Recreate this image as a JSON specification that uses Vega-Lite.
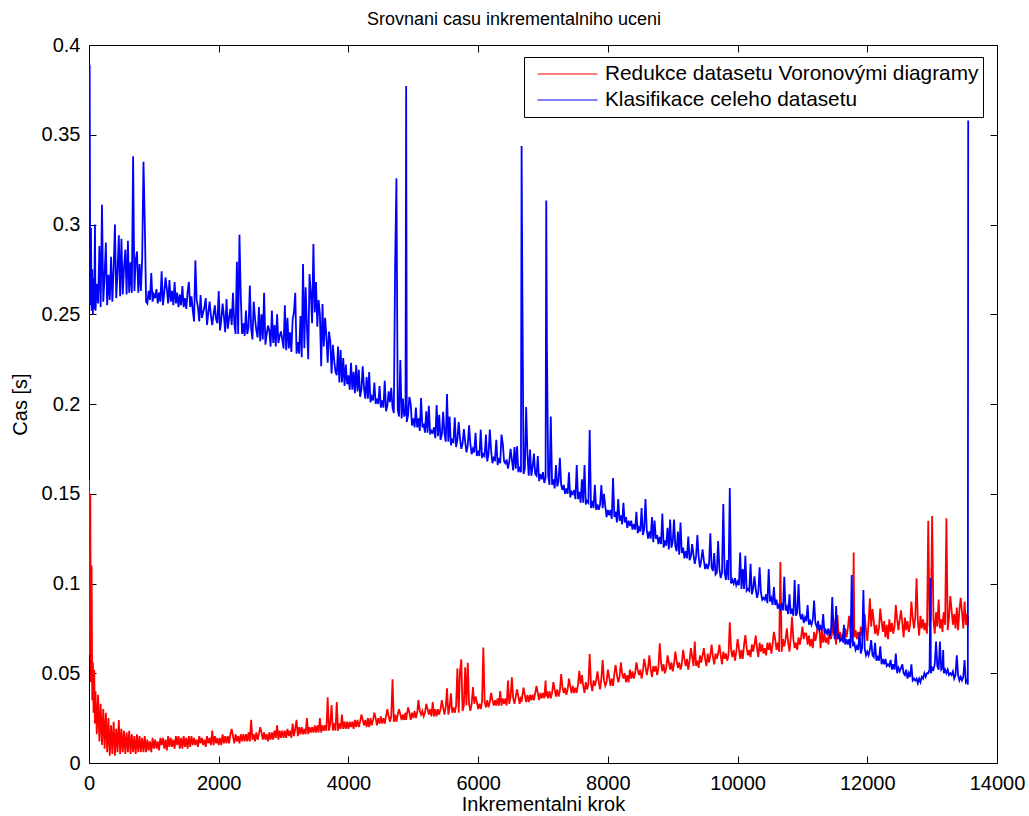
{
  "$schema": "https://vega.github.io/schema/vega-lite/v6.json",
  "width": 908,
  "height": 718,
  "autosize": "none",
  "padding": {"left": 89, "top": 45, "right": 32, "bottom": 53},
  "background": "white",
  "config": {
    "font": "Liberation Sans",
    "view": {"stroke": "black", "strokeWidth": 1},
    "axis": {
      "domain": false,
      "grid": false,
      "offset": -7,
      "tickColor": "#000000",
      "tickSize": 7,
      "tickWidth": 1,
      "labelFlush": false,
      "labelFont": "Liberation Sans",
      "labelFontSize": 20,
      "labelColor": "#000000",
      "titleFont": "Liberation Sans",
      "titleFontSize": 20,
      "titleFontWeight": "normal",
      "titleColor": "#000000"
    }
  },
  "title": {
    "text": "Srovnani casu inkrementalniho uceni",
    "fontSize": 18,
    "fontWeight": "normal",
    "font": "Liberation Sans",
    "color": "#000000",
    "offset": 6,
    "dx": -29
  },
  "layer": [
    {
      "data": {
        "values": [
          {"x":0,"r":0.158,"b":0.321},{"x":10,"r":0.060,"b":0.389},{"x":20,"r":0.150,"b":0.255},{"x":30,"r":0.045,"b":0.298},
          {"x":40,"r":0.110,"b":0.252},{"x":50,"r":0.035,"b":0.275},{"x":60,"r":0.056,"b":0.250},{"x":70,"r":0.028,"b":0.270},
          {"x":80,"r":0.052,"b":0.253},{"x":92,"r":0.022,"b":0.300},{"x":100,"r":0.040,"b":0.252},{"x":120,"r":0.016,"b":0.267},
          {"x":140,"r":0.038,"b":0.256},{"x":160,"r":0.012,"b":0.288},{"x":180,"r":0.033,"b":0.254},{"x":200,"r":0.010,"b":0.311},
          {"x":220,"r":0.030,"b":0.257},{"x":240,"r":0.008,"b":0.271},{"x":260,"r":0.028,"b":0.290},{"x":280,"r":0.006,"b":0.255},
          {"x":300,"r":0.025,"b":0.272},{"x":320,"r":0.004,"b":0.258},{"x":340,"r":0.021,"b":0.282},{"x":360,"r":0.005,"b":0.257},
          {"x":380,"r":0.023,"b":0.276},{"x":400,"r":0.004,"b":0.300},{"x":420,"r":0.019,"b":0.259},{"x":440,"r":0.006,"b":0.274},
          {"x":460,"r":0.024,"b":0.294},{"x":480,"r":0.005,"b":0.260},{"x":500,"r":0.019,"b":0.292},{"x":520,"r":0.006,"b":0.261},
          {"x":540,"r":0.018,"b":0.276},{"x":560,"r":0.005,"b":0.286},{"x":580,"r":0.017,"b":0.261},{"x":600,"r":0.006,"b":0.291},
          {"x":620,"r":0.018,"b":0.262},{"x":640,"r":0.005,"b":0.279},{"x":660,"r":0.016,"b":0.262},{"x":680,"r":0.006,"b":0.338},
          {"x":700,"r":0.015,"b":0.263},{"x":720,"r":0.005,"b":0.280},{"x":740,"r":0.016,"b":0.285},{"x":760,"r":0.006,"b":0.262},
          {"x":780,"r":0.015,"b":0.278},{"x":800,"r":0.006,"b":0.263},{"x":820,"r":0.014,"b":0.281},{"x":840,"r":0.006,"b":0.335},
          {"x":860,"r":0.015,"b":0.301},{"x":880,"r":0.006,"b":0.257},{"x":900,"r":0.013,"b":0.256},{"x":920,"r":0.007,"b":0.263},
          {"x":940,"r":0.012,"b":0.258},{"x":960,"r":0.006,"b":0.273},{"x":980,"r":0.014,"b":0.257},{"x":1000,"r":0.008,"b":0.261},
          {"x":1020,"r":0.013,"b":0.259},{"x":1040,"r":0.008,"b":0.264},{"x":1060,"r":0.012,"b":0.256},{"x":1080,"r":0.007,"b":0.262},
          {"x":1100,"r":0.014,"b":0.257},{"x":1120,"r":0.010,"b":0.274},{"x":1140,"r":0.014,"b":0.255},{"x":1160,"r":0.008,"b":0.262},
          {"x":1180,"r":0.013,"b":0.2705},{"x":1200,"r":0.007,"b":0.264},{"x":1220,"r":0.015,"b":0.256},{"x":1240,"r":0.009,"b":0.269},
          {"x":1260,"r":0.014,"b":0.257},{"x":1280,"r":0.009,"b":0.263},{"x":1300,"r":0.013,"b":0.255},{"x":1320,"r":0.008,"b":0.268},
          {"x":1340,"r":0.015,"b":0.256},{"x":1360,"r":0.010,"b":0.262},{"x":1380,"r":0.015,"b":0.254},{"x":1400,"r":0.008,"b":0.261},
          {"x":1420,"r":0.014,"b":0.255},{"x":1440,"r":0.008,"b":0.2657},{"x":1460,"r":0.015,"b":0.254},{"x":1480,"r":0.009,"b":0.259},
          {"x":1500,"r":0.014,"b":0.253},{"x":1520,"r":0.008,"b":0.262},{"x":1540,"r":0.015,"b":0.268},{"x":1560,"r":0.009,"b":0.254},
          {"x":1580,"r":0.015,"b":0.260},{"x":1600,"r":0.010,"b":0.252},{"x":1620,"r":0.014,"b":0.246},{"x":1640,"r":0.010,"b":0.280},
          {"x":1660,"r":0.013,"b":0.258},{"x":1680,"r":0.009,"b":0.254},{"x":1700,"r":0.015,"b":0.246},{"x":1720,"r":0.011,"b":0.2607},
          {"x":1740,"r":0.014,"b":0.248},{"x":1760,"r":0.010,"b":0.251},{"x":1780,"r":0.013,"b":0.254},{"x":1800,"r":0.009,"b":0.259},
          {"x":1820,"r":0.015,"b":0.244},{"x":1840,"r":0.011,"b":0.251},{"x":1860,"r":0.014,"b":0.257},{"x":1880,"r":0.010,"b":0.249},
          {"x":1900,"r":0.018,"b":0.244},{"x":1920,"r":0.010,"b":0.250},{"x":1940,"r":0.015,"b":0.255},{"x":1960,"r":0.011,"b":0.247},
          {"x":1980,"r":0.014,"b":0.245},{"x":2000,"r":0.010,"b":0.263},{"x":2020,"r":0.014,"b":0.241},{"x":2040,"r":0.010,"b":0.247},
          {"x":2060,"r":0.016,"b":0.256},{"x":2080,"r":0.011,"b":0.249},{"x":2100,"r":0.015,"b":0.240},{"x":2120,"r":0.011,"b":0.2585},
          {"x":2140,"r":0.015,"b":0.242},{"x":2160,"r":0.011,"b":0.248},{"x":2180,"r":0.016,"b":0.253},{"x":2200,"r":0.019,"b":0.244},
          {"x":2220,"r":0.015,"b":0.262},{"x":2240,"r":0.011,"b":0.245},{"x":2260,"r":0.016,"b":0.239},{"x":2280,"r":0.012,"b":0.2793},
          {"x":2300,"r":0.015,"b":0.239},{"x":2320,"r":0.011,"b":0.2943},{"x":2340,"r":0.016,"b":0.260},{"x":2360,"r":0.012,"b":0.239},
          {"x":2380,"r":0.016,"b":0.245},{"x":2400,"r":0.012,"b":0.238},{"x":2420,"r":0.016,"b":0.252},{"x":2440,"r":0.012,"b":0.239},
          {"x":2460,"r":0.017,"b":0.243},{"x":2480,"r":0.012,"b":0.266},{"x":2500,"r":0.024,"b":0.242},{"x":2520,"r":0.013,"b":0.236},
          {"x":2540,"r":0.016,"b":0.257},{"x":2560,"r":0.012,"b":0.2475},{"x":2580,"r":0.017,"b":0.241},{"x":2600,"r":0.013,"b":0.237},
          {"x":2620,"r":0.016,"b":0.254},{"x":2640,"r":0.020,"b":0.235},{"x":2660,"r":0.017,"b":0.250},{"x":2680,"r":0.013,"b":0.236},
          {"x":2700,"r":0.017,"b":0.262},{"x":2720,"r":0.013,"b":0.233},{"x":2740,"r":0.016,"b":0.239},{"x":2760,"r":0.012,"b":0.2437},
          {"x":2780,"r":0.017,"b":0.241},{"x":2800,"r":0.013,"b":0.232},{"x":2820,"r":0.017,"b":0.252},{"x":2840,"r":0.013,"b":0.234},
          {"x":2860,"r":0.018,"b":0.244},{"x":2880,"r":0.014,"b":0.232},{"x":2900,"r":0.021,"b":0.250},{"x":2920,"r":0.013,"b":0.234},
          {"x":2940,"r":0.018,"b":0.238},{"x":2960,"r":0.014,"b":0.2404},{"x":2980,"r":0.018,"b":0.236},{"x":3000,"r":0.014,"b":0.231},
          {"x":3020,"r":0.018,"b":0.255},{"x":3040,"r":0.014,"b":0.230},{"x":3060,"r":0.019,"b":0.248},{"x":3080,"r":0.015,"b":0.231},
          {"x":3100,"r":0.018,"b":0.2399},{"x":3120,"r":0.014,"b":0.229},{"x":3140,"r":0.022,"b":0.247},{"x":3160,"r":0.015,"b":0.2512},
          {"x":3180,"r":0.019,"b":0.262},{"x":3200,"r":0.024,"b":0.228},{"x":3220,"r":0.015,"b":0.2345},{"x":3240,"r":0.020,"b":0.228},
          {"x":3260,"r":0.016,"b":0.249},{"x":3280,"r":0.020,"b":0.226},{"x":3300,"r":0.016,"b":0.278},{"x":3320,"r":0.019,"b":0.231},
          {"x":3340,"r":0.016,"b":0.265},{"x":3360,"r":0.025,"b":0.243},{"x":3380,"r":0.016,"b":0.225},{"x":3400,"r":0.020,"b":0.2724},
          {"x":3420,"r":0.017,"b":0.262},{"x":3440,"r":0.020,"b":0.245},{"x":3460,"r":0.017,"b":0.2891},{"x":3480,"r":0.021,"b":0.251},
          {"x":3500,"r":0.017,"b":0.268},{"x":3520,"r":0.021,"b":0.243},{"x":3540,"r":0.017,"b":0.2579},{"x":3560,"r":0.025,"b":0.250},
          {"x":3580,"r":0.017,"b":0.221},{"x":3600,"r":0.021,"b":0.2557},{"x":3620,"r":0.018,"b":0.232},{"x":3640,"r":0.021,"b":0.248},
          {"x":3660,"r":0.018,"b":0.238},{"x":3680,"r":0.0366,"b":0.223},{"x":3700,"r":0.018,"b":0.2403},{"x":3720,"r":0.022,"b":0.235},
          {"x":3740,"r":0.0323,"b":0.217},{"x":3760,"r":0.018,"b":0.233},{"x":3780,"r":0.022,"b":0.2245},{"x":3800,"r":0.018,"b":0.218},
          {"x":3820,"r":0.034,"b":0.216},{"x":3840,"r":0.018,"b":0.232},{"x":3860,"r":0.022,"b":0.212},{"x":3880,"r":0.019,"b":0.230},
          {"x":3900,"r":0.027,"b":0.212},{"x":3920,"r":0.019,"b":0.2256},{"x":3940,"r":0.023,"b":0.210},{"x":3960,"r":0.019,"b":0.222},
          {"x":3980,"r":0.023,"b":0.211},{"x":4000,"r":0.019,"b":0.216},{"x":4020,"r":0.023,"b":0.208},{"x":4040,"r":0.020,"b":0.223},
          {"x":4060,"r":0.023,"b":0.208},{"x":4080,"r":0.019,"b":0.218},{"x":4100,"r":0.024,"b":0.206},{"x":4120,"r":0.020,"b":0.2217},
          {"x":4140,"r":0.024,"b":0.207},{"x":4160,"r":0.020,"b":0.219},{"x":4180,"r":0.023,"b":0.204},{"x":4200,"r":0.027,"b":0.208},
          {"x":4220,"r":0.024,"b":0.221},{"x":4240,"r":0.021,"b":0.209},{"x":4260,"r":0.024,"b":0.203},{"x":4280,"r":0.020,"b":0.215},
          {"x":4300,"r":0.025,"b":0.203},{"x":4320,"r":0.020,"b":0.2178},{"x":4340,"r":0.025,"b":0.201},{"x":4360,"r":0.021,"b":0.204},
          {"x":4380,"r":0.024,"b":0.202},{"x":4400,"r":0.028,"b":0.212},{"x":4420,"r":0.025,"b":0.200},{"x":4440,"r":0.021,"b":0.203},
          {"x":4460,"r":0.025,"b":0.200},{"x":4480,"r":0.022,"b":0.210},{"x":4500,"r":0.026,"b":0.198},{"x":4520,"r":0.022,"b":0.202},
          {"x":4540,"r":0.025,"b":0.198},{"x":4560,"r":0.022,"b":0.213},{"x":4580,"r":0.026,"b":0.196},{"x":4600,"r":0.030,"b":0.199},
          {"x":4620,"r":0.026,"b":0.207},{"x":4640,"r":0.023,"b":0.201},{"x":4660,"r":0.026,"b":0.209},{"x":4680,"r":0.0466,"b":0.198},
          {"x":4700,"r":0.023,"b":0.195},{"x":4720,"r":0.027,"b":0.277},{"x":4740,"r":0.023,"b":0.3257},{"x":4760,"r":0.027,"b":0.197},
          {"x":4780,"r":0.030,"b":0.193},{"x":4800,"r":0.027,"b":0.2245},{"x":4820,"r":0.024,"b":0.192},{"x":4840,"r":0.027,"b":0.203},
          {"x":4860,"r":0.024,"b":0.193},{"x":4880,"r":0.028,"b":0.195},{"x":4890,"r":0.024,"b":0.3772},{"x":4900,"r":0.027,"b":0.190},
          {"x":4920,"r":0.031,"b":0.194},{"x":4940,"r":0.028,"b":0.204},{"x":4960,"r":0.024,"b":0.200},{"x":4980,"r":0.028,"b":0.188},
          {"x":5000,"r":0.025,"b":0.192},{"x":5020,"r":0.029,"b":0.187},{"x":5040,"r":0.025,"b":0.198},{"x":5060,"r":0.028,"b":0.187},
          {"x":5080,"r":0.035,"b":0.192},{"x":5100,"r":0.029,"b":0.185},{"x":5120,"r":0.027,"b":0.2033},{"x":5140,"r":0.029,"b":0.187},
          {"x":5160,"r":0.026,"b":0.189},{"x":5180,"r":0.028,"b":0.184},{"x":5200,"r":0.033,"b":0.196},{"x":5220,"r":0.030,"b":0.184},
          {"x":5240,"r":0.027,"b":0.199},{"x":5260,"r":0.030,"b":0.183},{"x":5280,"r":0.026,"b":0.185},{"x":5300,"r":0.034,"b":0.184},
          {"x":5320,"r":0.026,"b":0.187},{"x":5340,"r":0.030,"b":0.181},{"x":5360,"r":0.026,"b":0.1994},{"x":5380,"r":0.030,"b":0.182},
          {"x":5400,"r":0.027,"b":0.194},{"x":5420,"r":0.030,"b":0.180},{"x":5440,"r":0.035,"b":0.183},{"x":5460,"r":0.031,"b":0.1956},
          {"x":5480,"r":0.027,"b":0.184},{"x":5500,"r":0.031,"b":0.179},{"x":5520,"r":0.0416,"b":0.2056},{"x":5540,"r":0.027,"b":0.179},
          {"x":5560,"r":0.031,"b":0.193},{"x":5580,"r":0.0388,"b":0.177},{"x":5600,"r":0.028,"b":0.180},{"x":5620,"r":0.031,"b":0.179},
          {"x":5640,"r":0.028,"b":0.1924},{"x":5660,"r":0.032,"b":0.176},{"x":5680,"r":0.0527,"b":0.180},{"x":5700,"r":0.028,"b":0.190},
          {"x":5720,"r":0.0509,"b":0.181},{"x":5740,"r":0.0578,"b":0.175},{"x":5760,"r":0.029,"b":0.178},{"x":5780,"r":0.032,"b":0.186},
          {"x":5800,"r":0.0533,"b":0.179},{"x":5820,"r":0.032,"b":0.173},{"x":5840,"r":0.0559,"b":0.177},{"x":5860,"r":0.033,"b":0.1881},
          {"x":5880,"r":0.029,"b":0.178},{"x":5900,"r":0.033,"b":0.172},{"x":5920,"r":0.0423,"b":0.175},{"x":5940,"r":0.033,"b":0.173},
          {"x":5960,"r":0.037,"b":0.184},{"x":5980,"r":0.034,"b":0.171},{"x":6000,"r":0.030,"b":0.174},{"x":6020,"r":0.033,"b":0.171},
          {"x":6040,"r":0.030,"b":0.1857},{"x":6060,"r":0.034,"b":0.170},{"x":6080,"r":0.0644,"b":0.172},{"x":6100,"r":0.034,"b":0.171},
          {"x":6120,"r":0.031,"b":0.183},{"x":6140,"r":0.035,"b":0.168},{"x":6160,"r":0.031,"b":0.172},{"x":6180,"r":0.034,"b":0.1857},
          {"x":6200,"r":0.039,"b":0.174},{"x":6220,"r":0.035,"b":0.167},{"x":6240,"r":0.032,"b":0.170},{"x":6260,"r":0.035,"b":0.169},
          {"x":6280,"r":0.032,"b":0.180},{"x":6300,"r":0.036,"b":0.166},{"x":6320,"r":0.032,"b":0.170},{"x":6340,"r":0.040,"b":0.167},
          {"x":6360,"r":0.032,"b":0.183},{"x":6380,"r":0.036,"b":0.178},{"x":6400,"r":0.033,"b":0.168},{"x":6420,"r":0.036,"b":0.167},
          {"x":6440,"r":0.032,"b":0.169},{"x":6460,"r":0.0459,"b":0.164},{"x":6480,"r":0.033,"b":0.168},{"x":6500,"r":0.037,"b":0.175},
          {"x":6520,"r":0.0477,"b":0.169},{"x":6540,"r":0.036,"b":0.163},{"x":6560,"r":0.033,"b":0.176},{"x":6580,"r":0.037,"b":0.164},
          {"x":6600,"r":0.041,"b":0.1764},{"x":6620,"r":0.037,"b":0.162},{"x":6640,"r":0.033,"b":0.165},{"x":6660,"r":0.037,"b":0.162},
          {"x":6670,"r":0.034,"b":0.3437},{"x":6680,"r":0.037,"b":0.2746},{"x":6700,"r":0.042,"b":0.161},{"x":6720,"r":0.038,"b":0.164},
          {"x":6740,"r":0.034,"b":0.1983},{"x":6760,"r":0.038,"b":0.172},{"x":6780,"r":0.034,"b":0.160},{"x":6800,"r":0.038,"b":0.1746},
          {"x":6820,"r":0.035,"b":0.160},{"x":6840,"r":0.038,"b":0.165},{"x":6860,"r":0.035,"b":0.1724},{"x":6880,"r":0.039,"b":0.161},
          {"x":6900,"r":0.043,"b":0.160},{"x":6920,"r":0.039,"b":0.171},{"x":6940,"r":0.035,"b":0.157},{"x":6960,"r":0.039,"b":0.161},
          {"x":6980,"r":0.036,"b":0.158},{"x":7000,"r":0.039,"b":0.162},{"x":7020,"r":0.036,"b":0.156},{"x":7040,"r":0.0459,"b":0.159},
          {"x":7050,"r":0.037,"b":0.3133},{"x":7060,"r":0.040,"b":0.2334},{"x":7080,"r":0.036,"b":0.160},{"x":7100,"r":0.040,"b":0.155},
          {"x":7120,"r":0.036,"b":0.193},{"x":7140,"r":0.039,"b":0.155},{"x":7160,"r":0.045,"b":0.158},{"x":7180,"r":0.041,"b":0.153},
          {"x":7200,"r":0.037,"b":0.166},{"x":7220,"r":0.041,"b":0.154},{"x":7240,"r":0.037,"b":0.157},{"x":7260,"r":0.040,"b":0.170},
          {"x":7280,"r":0.0496,"b":0.155},{"x":7300,"r":0.042,"b":0.152},{"x":7320,"r":0.039,"b":0.155},{"x":7340,"r":0.042,"b":0.150},
          {"x":7360,"r":0.038,"b":0.153},{"x":7380,"r":0.041,"b":0.150},{"x":7400,"r":0.047,"b":0.162},{"x":7420,"r":0.043,"b":0.148},
          {"x":7440,"r":0.039,"b":0.151},{"x":7460,"r":0.043,"b":0.150},{"x":7480,"r":0.039,"b":0.152},{"x":7500,"r":0.042,"b":0.147},
          {"x":7520,"r":0.039,"b":0.166},{"x":7540,"r":0.044,"b":0.147},{"x":7560,"r":0.0514,"b":0.151},{"x":7580,"r":0.044,"b":0.145},
          {"x":7600,"r":0.049,"b":0.158},{"x":7620,"r":0.043,"b":0.145},{"x":7640,"r":0.039,"b":0.166},{"x":7660,"r":0.045,"b":0.144},
          {"x":7680,"r":0.041,"b":0.146},{"x":7700,"r":0.044,"b":0.145},{"x":7720,"r":0.0607,"b":0.1855},{"x":7740,"r":0.044,"b":0.142},
          {"x":7760,"r":0.040,"b":0.146},{"x":7780,"r":0.046,"b":0.142},{"x":7800,"r":0.043,"b":0.155},{"x":7820,"r":0.046,"b":0.141},
          {"x":7840,"r":0.051,"b":0.144},{"x":7860,"r":0.045,"b":0.141},{"x":7880,"r":0.041,"b":0.144},{"x":7900,"r":0.047,"b":0.1549},
          {"x":7920,"r":0.0573,"b":0.142},{"x":7940,"r":0.046,"b":0.150},{"x":7960,"r":0.043,"b":0.143},{"x":7980,"r":0.045,"b":0.137},
          {"x":8000,"r":0.052,"b":0.141},{"x":8020,"r":0.048,"b":0.138},{"x":8040,"r":0.043,"b":0.141},{"x":8060,"r":0.047,"b":0.136},
          {"x":8080,"r":0.043,"b":0.1588},{"x":8100,"r":0.050,"b":0.137},{"x":8120,"r":0.0546,"b":0.140},{"x":8140,"r":0.049,"b":0.134},
          {"x":8160,"r":0.045,"b":0.147},{"x":8180,"r":0.048,"b":0.135},{"x":8200,"r":0.056,"b":0.138},{"x":8220,"r":0.050,"b":0.133},
          {"x":8240,"r":0.047,"b":0.145},{"x":8260,"r":0.050,"b":0.134},{"x":8280,"r":0.045,"b":0.137},{"x":8300,"r":0.049,"b":0.131},
          {"x":8320,"r":0.045,"b":0.135},{"x":8340,"r":0.052,"b":0.132},{"x":8360,"r":0.047,"b":0.135},{"x":8380,"r":0.051,"b":0.130},
          {"x":8400,"r":0.047,"b":0.133},{"x":8420,"r":0.050,"b":0.130},{"x":8440,"r":0.056,"b":0.140},{"x":8460,"r":0.052,"b":0.128},
          {"x":8480,"r":0.049,"b":0.131},{"x":8500,"r":0.052,"b":0.129},{"x":8520,"r":0.047,"b":0.142},{"x":8540,"r":0.051,"b":0.127},
          {"x":8560,"r":0.058,"b":0.130},{"x":8580,"r":0.054,"b":0.147},{"x":8600,"r":0.049,"b":0.130},{"x":8620,"r":0.053,"b":0.125},
          {"x":8640,"r":0.060,"b":0.129},{"x":8660,"r":0.052,"b":0.125},{"x":8680,"r":0.048,"b":0.137},{"x":8700,"r":0.054,"b":0.123},
          {"x":8720,"r":0.051,"b":0.135},{"x":8740,"r":0.054,"b":0.125},{"x":8760,"r":0.049,"b":0.127},{"x":8780,"r":0.053,"b":0.122},
          {"x":8800,"r":0.0667,"b":0.126},{"x":8820,"r":0.056,"b":0.122},{"x":8840,"r":0.051,"b":0.139},{"x":8860,"r":0.055,"b":0.120},
          {"x":8880,"r":0.050,"b":0.124},{"x":8900,"r":0.053,"b":0.121},{"x":8920,"r":0.060,"b":0.131},{"x":8940,"r":0.056,"b":0.119},
          {"x":8960,"r":0.052,"b":0.1356},{"x":8980,"r":0.056,"b":0.120},{"x":9000,"r":0.051,"b":0.123},{"x":9020,"r":0.055,"b":0.1356},
          {"x":9040,"r":0.062,"b":0.121},{"x":9060,"r":0.057,"b":0.118},{"x":9080,"r":0.053,"b":0.129},{"x":9100,"r":0.056,"b":0.116},
          {"x":9120,"r":0.052,"b":0.134},{"x":9140,"r":0.055,"b":0.117},{"x":9160,"r":0.063,"b":0.120},{"x":9180,"r":0.058,"b":0.114},
          {"x":9200,"r":0.054,"b":0.118},{"x":9220,"r":0.058,"b":0.114},{"x":9240,"r":0.052,"b":0.1262},{"x":9260,"r":0.057,"b":0.113},
          {"x":9280,"r":0.064,"b":0.115},{"x":9300,"r":0.059,"b":0.122},{"x":9320,"r":0.054,"b":0.116},{"x":9340,"r":0.0676,"b":0.111},
          {"x":9360,"r":0.054,"b":0.115},{"x":9380,"r":0.057,"b":0.127},{"x":9400,"r":0.053,"b":0.115},{"x":9420,"r":0.060,"b":0.109},
          {"x":9440,"r":0.056,"b":0.113},{"x":9460,"r":0.060,"b":0.119},{"x":9480,"r":0.064,"b":0.113},{"x":9500,"r":0.058,"b":0.108},
          {"x":9520,"r":0.054,"b":0.111},{"x":9540,"r":0.061,"b":0.108},{"x":9560,"r":0.056,"b":0.111},{"x":9580,"r":0.060,"b":0.128},
          {"x":9600,"r":0.066,"b":0.109},{"x":9620,"r":0.059,"b":0.107},{"x":9640,"r":0.055,"b":0.117},{"x":9660,"r":0.061,"b":0.105},
          {"x":9680,"r":0.058,"b":0.106},{"x":9700,"r":0.061,"b":0.1237},{"x":9720,"r":0.066,"b":0.108},{"x":9740,"r":0.060,"b":0.103},
          {"x":9760,"r":0.055,"b":0.106},{"x":9780,"r":0.062,"b":0.1443},{"x":9800,"r":0.058,"b":0.106},{"x":9820,"r":0.061,"b":0.102},
          {"x":9840,"r":0.057,"b":0.113},{"x":9860,"r":0.060,"b":0.102},{"x":9880,"r":0.0784,"b":0.1532},{"x":9900,"r":0.063,"b":0.100},
          {"x":9920,"r":0.059,"b":0.102},{"x":9940,"r":0.063,"b":0.100},{"x":9960,"r":0.057,"b":0.103},{"x":9980,"r":0.062,"b":0.099},
          {"x":10000,"r":0.069,"b":0.101},{"x":10020,"r":0.064,"b":0.099},{"x":10040,"r":0.058,"b":0.1172},{"x":10060,"r":0.063,"b":0.097},
          {"x":10080,"r":0.058,"b":0.108},{"x":10100,"r":0.066,"b":0.097},{"x":10120,"r":0.0713,"b":0.1155},{"x":10140,"r":0.064,"b":0.096},
          {"x":10160,"r":0.060,"b":0.097},{"x":10180,"r":0.063,"b":0.096},{"x":10200,"r":0.059,"b":0.111},{"x":10220,"r":0.066,"b":0.094},
          {"x":10240,"r":0.062,"b":0.097},{"x":10260,"r":0.066,"b":0.104},{"x":10280,"r":0.071,"b":0.097},{"x":10300,"r":0.064,"b":0.092},
          {"x":10320,"r":0.059,"b":0.095},{"x":10340,"r":0.067,"b":0.109},{"x":10360,"r":0.062,"b":0.095},{"x":10380,"r":0.066,"b":0.091},
          {"x":10400,"r":0.061,"b":0.092},{"x":10420,"r":0.064,"b":0.091},{"x":10440,"r":0.060,"b":0.094},{"x":10460,"r":0.067,"b":0.089},
          {"x":10480,"r":0.063,"b":0.108},{"x":10500,"r":0.067,"b":0.090},{"x":10520,"r":0.061,"b":0.092},{"x":10540,"r":0.066,"b":0.088},
          {"x":10560,"r":0.073,"b":0.098},{"x":10580,"r":0.069,"b":0.088},{"x":10600,"r":0.063,"b":0.091},{"x":10620,"r":0.067,"b":0.086},
          {"x":10640,"r":0.062,"b":0.088},{"x":10660,"r":0.112,"b":0.086},{"x":10680,"r":0.062,"b":0.089},{"x":10700,"r":0.069,"b":0.085},
          {"x":10720,"r":0.065,"b":0.1038},{"x":10740,"r":0.069,"b":0.085},{"x":10760,"r":0.075,"b":0.087},{"x":10780,"r":0.067,"b":0.083},
          {"x":10800,"r":0.062,"b":0.094},{"x":10820,"r":0.070,"b":0.083},{"x":10840,"r":0.0815,"b":0.086},{"x":10860,"r":0.069,"b":0.082},
          {"x":10880,"r":0.064,"b":0.102},{"x":10900,"r":0.067,"b":0.082},{"x":10920,"r":0.063,"b":0.084},{"x":10940,"r":0.070,"b":0.0997},
          {"x":10960,"r":0.066,"b":0.083},{"x":10980,"r":0.070,"b":0.080},{"x":11000,"r":0.076,"b":0.083},{"x":11020,"r":0.069,"b":0.078},
          {"x":11040,"r":0.0722,"b":0.081},{"x":11060,"r":0.072,"b":0.079},{"x":11080,"r":0.066,"b":0.088},{"x":11100,"r":0.071,"b":0.077},
          {"x":11120,"r":0.065,"b":0.079},{"x":11140,"r":0.069,"b":0.077},{"x":11160,"r":0.064,"b":0.080},{"x":11180,"r":0.073,"b":0.0905},
          {"x":11200,"r":0.068,"b":0.078},{"x":11220,"r":0.072,"b":0.076},{"x":11240,"r":0.079,"b":0.078},{"x":11260,"r":0.0759,"b":0.074},
          {"x":11280,"r":0.064,"b":0.076},{"x":11300,"r":0.074,"b":0.074},{"x":11320,"r":0.067,"b":0.083},{"x":11340,"r":0.072,"b":0.072},
          {"x":11360,"r":0.067,"b":0.074},{"x":11380,"r":0.070,"b":0.072},{"x":11400,"r":0.066,"b":0.075},{"x":11420,"r":0.074,"b":0.071},
          {"x":11440,"r":0.069,"b":0.073},{"x":11460,"r":0.073,"b":0.0925},{"x":11480,"r":0.080,"b":0.074},{"x":11500,"r":0.072,"b":0.069},
          {"x":11520,"r":0.066,"b":0.0875},{"x":11540,"r":0.0824,"b":0.069},{"x":11560,"r":0.069,"b":0.072},{"x":11580,"r":0.073,"b":0.068},
          {"x":11600,"r":0.068,"b":0.069},{"x":11620,"r":0.072,"b":0.068},{"x":11640,"r":0.067,"b":0.077},{"x":11660,"r":0.075,"b":0.066},
          {"x":11680,"r":0.070,"b":0.069},{"x":11700,"r":0.075,"b":0.066},{"x":11720,"r":0.082,"b":0.069},{"x":11740,"r":0.073,"b":0.064},
          {"x":11760,"r":0.067,"b":0.1047},{"x":11780,"r":0.076,"b":0.065},{"x":11790,"r":0.1172,"b":0.067},{"x":11800,"r":0.070,"b":0.067},
          {"x":11820,"r":0.074,"b":0.063},{"x":11840,"r":0.069,"b":0.065},{"x":11860,"r":0.073,"b":0.063},{"x":11880,"r":0.068,"b":0.073},
          {"x":11900,"r":0.076,"b":0.061},{"x":11920,"r":0.071,"b":0.064},{"x":11940,"r":0.076,"b":0.0964},{"x":11960,"r":0.083,"b":0.064},
          {"x":11980,"r":0.074,"b":0.060},{"x":12000,"r":0.068,"b":0.062},{"x":12020,"r":0.078,"b":0.060},{"x":12040,"r":0.0917,"b":0.063},
          {"x":12060,"r":0.076,"b":0.0685},{"x":12080,"r":0.0858,"b":0.060},{"x":12100,"r":0.079,"b":0.059},{"x":12120,"r":0.072,"b":0.067},
          {"x":12140,"r":0.077,"b":0.057},{"x":12160,"r":0.071,"b":0.059},{"x":12180,"r":0.075,"b":0.057},{"x":12200,"r":0.086,"b":0.065},
          {"x":12220,"r":0.079,"b":0.055},{"x":12240,"r":0.073,"b":0.058},{"x":12260,"r":0.079,"b":0.055},{"x":12280,"r":0.070,"b":0.058},
          {"x":12300,"r":0.077,"b":0.054},{"x":12320,"r":0.069,"b":0.055},{"x":12340,"r":0.080,"b":0.054},{"x":12360,"r":0.073,"b":0.0574},
          {"x":12380,"r":0.078,"b":0.052},{"x":12400,"r":0.072,"b":0.055},{"x":12420,"r":0.076,"b":0.052},{"x":12440,"r":0.088,"b":0.061},
          {"x":12460,"r":0.080,"b":0.050},{"x":12480,"r":0.074,"b":0.053},{"x":12500,"r":0.080,"b":0.051},{"x":12520,"r":0.085,"b":0.053},
          {"x":12540,"r":0.078,"b":0.055},{"x":12560,"r":0.070,"b":0.050},{"x":12580,"r":0.081,"b":0.049},{"x":12600,"r":0.074,"b":0.052},
          {"x":12620,"r":0.079,"b":0.047},{"x":12640,"r":0.073,"b":0.050},{"x":12660,"r":0.077,"b":0.048},{"x":12680,"r":0.090,"b":0.055},
          {"x":12700,"r":0.081,"b":0.046},{"x":12720,"r":0.075,"b":0.047},{"x":12740,"r":0.081,"b":0.046},{"x":12760,"r":0.1029,"b":0.047},
          {"x":12780,"r":0.079,"b":0.0444},{"x":12800,"r":0.071,"b":0.047},{"x":12820,"r":0.082,"b":0.045},{"x":12840,"r":0.075,"b":0.048},
          {"x":12860,"r":0.080,"b":0.047},{"x":12880,"r":0.074,"b":0.050},{"x":12900,"r":0.078,"b":0.048},{"x":12920,"r":0.072,"b":0.050},
          {"x":12940,"r":0.135,"b":0.050},{"x":12960,"r":0.076,"b":0.052},{"x":12975,"r":0.079,"b":0.103},{"x":12980,"r":0.082,"b":0.050},
          {"x":13000,"r":0.1376,"b":0.053},{"x":13020,"r":0.080,"b":0.052},{"x":13040,"r":0.072,"b":0.055},{"x":13060,"r":0.084,"b":0.0676},
          {"x":13080,"r":0.076,"b":0.054},{"x":13100,"r":0.091,"b":0.052},{"x":13120,"r":0.075,"b":0.0676},{"x":13140,"r":0.080,"b":0.052},
          {"x":13160,"r":0.073,"b":0.053},{"x":13170,"r":0.081,"b":0.063},{"x":13180,"r":0.084,"b":0.050},{"x":13200,"r":0.077,"b":0.052},
          {"x":13220,"r":0.1363,"b":0.050},{"x":13240,"r":0.074,"b":0.052},{"x":13260,"r":0.081,"b":0.049},{"x":13280,"r":0.093,"b":0.050},
          {"x":13300,"r":0.085,"b":0.049},{"x":13320,"r":0.077,"b":0.051},{"x":13340,"r":0.083,"b":0.047},{"x":13360,"r":0.075,"b":0.049},
          {"x":13380,"r":0.0866,"b":0.060},{"x":13400,"r":0.074,"b":0.049},{"x":13420,"r":0.085,"b":0.046},{"x":13440,"r":0.092,"b":0.048},
          {"x":13460,"r":0.084,"b":0.046},{"x":13480,"r":0.075,"b":0.048},{"x":13500,"r":0.090,"b":0.0574},{"x":13520,"r":0.077,"b":0.045},
          {"x":13540,"r":0.083,"b":0.046},{"x":13550,"r":0.076,"b":0.0436},{"x":13556,"r":0.082,"b":0.358}
        ]
      },
      "transform": [{"fold": ["r", "b"], "as": ["serie", "cas"]}],
      "mark": {"type": "line", "strokeWidth": 1.8, "clip": true},
      "encoding": {
        "x": {
          "field": "x",
          "type": "quantitative",
          "scale": {"domain": [0, 14000], "nice": false, "zero": false},
          "axis": {
            "orient": "bottom",
            "title": "Inkrementalni krok",
            "values": [0, 2000, 4000, 6000, 8000, 10000, 12000, 14000],
            "format": "d",
            "labelPadding": 10,
            "titlePadding": 1
          }
        },
        "y": {
          "field": "cas",
          "type": "quantitative",
          "scale": {"domain": [0, 0.4], "nice": false},
          "axis": {
            "orient": "left",
            "title": "Cas [s]",
            "values": [0, 0.05, 0.1, 0.15, 0.2, 0.25, 0.3, 0.35, 0.4],
            "format": "~g",
            "labelPadding": 9,
            "titlePadding": 11
          }
        },
        "color": {
          "field": "serie",
          "type": "nominal",
          "scale": {"domain": ["r", "b"], "range": ["#ff0000", "#0000ff"]},
          "legend": {
            "orient": "none",
            "legendX": 435,
            "legendY": 12,
            "title": null,
            "symbolType": "stroke",
            "symbolSize": 3600,
            "symbolStrokeWidth": 1,
            "clipHeight": 26,
            "labelFont": "Liberation Sans",
            "labelFontSize": 20.8,
            "labelColor": "#000000",
            "labelLimit": 600,
            "labelOffset": 7,
            "symbolOffset": 9,
            "padding": 4,
            "rowPadding": 0,
            "strokeColor": "#000000",
            "fillColor": "#ffffff",
            "labelExpr": "datum.value == 'r' ? 'Redukce datasetu Voronovými diagramy' : 'Klasifikace celeho datasetu'"
          }
        }
      }
    },
    {
      "data": {"values": []},
      "mark": {"type": "point", "opacity": 0},
      "encoding": {
        "x": {"field": "x", "type": "quantitative", "axis": {"orient": "top", "labels": false, "title": null, "values": [0, 2000, 4000, 6000, 8000, 10000, 12000, 14000]}},
        "y": {"field": "cas", "type": "quantitative", "axis": {"orient": "right", "labels": false, "title": null, "values": [0, 0.05, 0.1, 0.15, 0.2, 0.25, 0.3, 0.35, 0.4]}}
      }
    }
  ]
}
